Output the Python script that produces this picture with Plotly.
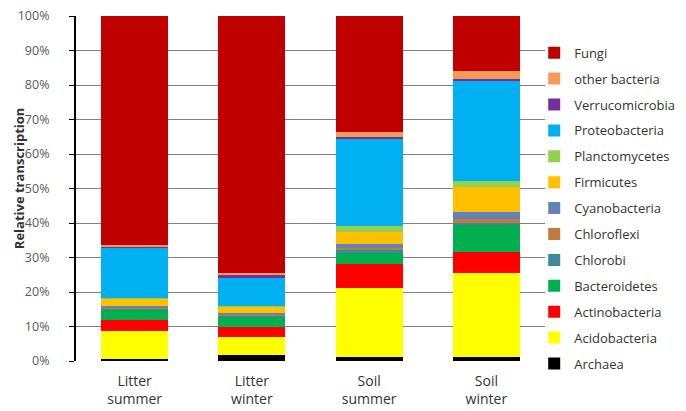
import plotly.graph_objects as go

categories = ["Litter<br>summer", "Litter<br>winter", "Soil<br>summer", "Soil<br>winter"]

# series listed bottom -> top (percent of relative transcription)
taxa = ["Archaea", "Acidobacteria", "Actinobacteria", "Bacteroidetes", "Chlorobi",
        "Chloroflexi", "Cyanobacteria", "Firmicutes", "Planctomycetes",
        "Proteobacteria", "Verrucomicrobia", "other bacteria", "Fungi"]

archaea = [0.5, 1.6, 1.2, 1.2]
acidobacteria = [8.2, 5.4, 20.0, 24.3]
actinobacteria = [3.2, 2.9, 6.9, 6.1]
bacteroidetes = [2.9, 3.1, 3.2, 7.8]
chlorobi = [0.4, 0.3, 0.8, 0.6]
chloroflexi = [0.3, 0.2, 0.8, 1.2]
cyanobacteria = [0.5, 0.3, 1.0, 2.0]
firmicutes = [2.0, 2.0, 3.5, 7.3]
planctomycetes = [0.3, 0.2, 1.7, 1.7]
proteobacteria = [14.5, 8.2, 25.5, 29.0]
verrucomicrobia = [0.5, 1.0, 0.4, 0.5]
other_bacteria = [0.3, 0.3, 1.4, 2.4]
fungi = [66.4, 74.5, 33.6, 15.9]

series = [archaea, acidobacteria, actinobacteria, bacteroidetes, chlorobi, chloroflexi,
          cyanobacteria, firmicutes, planctomycetes, proteobacteria, verrucomicrobia,
          other_bacteria, fungi]

colors = ["#000000", "#FFFF00", "#FF0000", "#00B050", "#3F8A9A", "#C07A40",
          "#6282BC", "#FFC000", "#92D050", "#00B0F0", "#7030A0", "#F79A55", "#C00000"]

fig = go.Figure()
n = len(taxa)
for i, (name, vals, col) in enumerate(zip(taxa, series, colors)):
    fig.add_trace(go.Bar(x=categories, y=vals, name=name, marker_color=col,
                         marker_line_width=0, legendgroup=name,
                         legendrank=n - i))

font = "Open Sans"
fig.update_layout(
    barmode="stack",
    bargap=0.43,
    width=686, height=411,
    margin=dict(l=76, r=141, t=16, b=50, autoexpand=False),
    plot_bgcolor="white", paper_bgcolor="white",
    font=dict(family=font, size=12, color="#333333"),
    legend=dict(x=0.977, xanchor="left", y=0.937, yanchor="top",
                traceorder="grouped", tracegroupgap=6, maxheight=400,
                font=dict(family=font, size=13, color="#333333"),
                bgcolor="rgba(0,0,0,0)"),
    yaxis=dict(range=[0, 100], dtick=10, ticksuffix="%", automargin=False,
               showgrid=True, gridcolor="#808080", gridwidth=1,
               showline=True, linecolor="#000000", linewidth=2,
               ticks="outside", ticklen=5, tickcolor="#000000",
               tickfont=dict(family=font, size=12.5, color="#595959"),
               ticklabelstandoff=17,
               zeroline=False),
    xaxis=dict(showline=False, ticks="", ticklabelstandoff=10, automargin=False,
               tickfont=dict(family=font, size=14, color="#333333")),
    annotations=[dict(text="<b>Relative transcription</b>", textangle=-90,
                      xref="paper", yref="paper", x=-0.1215, y=0.53,
                      xanchor="center", yanchor="middle", showarrow=False,
                      font=dict(family=font, size=13, color="#333333"))],
)

fig.write_html("out.html")
